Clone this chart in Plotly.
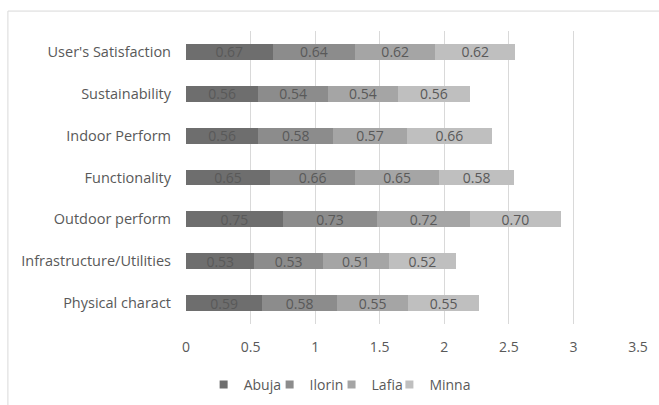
import plotly.graph_objects as go

categories = ["Physical charact", "Infrastructure/Utilities", "Outdoor perform",
              "Functionality", "Indoor Perform", "Sustainability", "User's Satisfaction"]
abuja = [0.59, 0.53, 0.75, 0.65, 0.56, 0.56, 0.67]
ilorin = [0.58, 0.53, 0.73, 0.66, 0.58, 0.54, 0.64]
lafia = [0.55, 0.51, 0.72, 0.65, 0.57, 0.54, 0.62]
minna = [0.55, 0.52, 0.70, 0.58, 0.66, 0.56, 0.62]
x_ticks = [0, 0.5, 1, 1.5, 2, 2.5, 3, 3.5]

series = [("Abuja", abuja, "#6e6e6e"), ("Ilorin", ilorin, "#8c8c8c"),
          ("Lafia", lafia, "#a5a5a5"), ("Minna", minna, "#bfbfbf")]
# left edge of each legend entry, as a fraction of the plot width
legend_x = [0.039, 0.185, 0.322, 0.450]

FONT = "Open Sans"
TEXT = "#595959"
SIZE = 14

fig = go.Figure()
for name, vals, color in series:
    fig.add_trace(go.Bar(
        y=categories, x=vals, name=name, orientation="h",
        marker=dict(color=color, line=dict(width=0)),
        text=[f"{v:.2f}" for v in vals], textposition="inside",
        insidetextanchor="middle", constraintext="none",
        textfont=dict(family=FONT, size=SIZE, color=TEXT),
        showlegend=False,
    ))

# one legend per series so each swatch sits right next to its label
legends = {}
for i, (name, vals, color) in enumerate(series):
    key = "legend" if i == 0 else f"legend{i + 1}"
    fig.add_trace(go.Scatter(
        x=[None], y=[None], mode="markers", name=name, legend=key,
        marker=dict(symbol="square", size=8, color=color),
    ))
    legends[key] = dict(orientation="h", x=legend_x[i], xanchor="left",
                        y=-0.208, yanchor="middle", itemwidth=30,
                        font=dict(size=SIZE, color=TEXT), itemclick=False,
                        bgcolor="rgba(0,0,0,0)")

fig.update_layout(
    barmode="stack", bargap=0.62,
    width=659, height=405,
    margin=dict(l=186, r=21, t=31, b=81, autoexpand=False),
    paper_bgcolor="white", plot_bgcolor="white",
    font=dict(family=FONT, size=SIZE, color=TEXT),
    xaxis=dict(range=[0, 3.5], tickvals=x_ticks, ticktext=[f"{t:g}" for t in x_ticks],
               showgrid=True, gridcolor="#d9d9d9", gridwidth=1, zeroline=False,
               showline=False, ticks="", ticklabelstandoff=13,
               tickfont=dict(size=SIZE, color=TEXT)),
    yaxis=dict(showgrid=False, zeroline=False, showline=False, ticks="",
               ticklabelstandoff=14, tickfont=dict(size=14.5, color=TEXT)),
    showlegend=True,
    shapes=[
        dict(type="line", xref="paper", yref="paper", x0=-0.394, x1=1.2,
             y0=1.068, y1=1.068, line=dict(color="#d9d9d9", width=1)),
        dict(type="line", xref="paper", yref="paper", x0=-0.394, x1=-0.394,
             y0=1.068, y1=-0.3, line=dict(color="#d9d9d9", width=1)),
    ],
    **legends,
)

fig.write_html("out.html")
